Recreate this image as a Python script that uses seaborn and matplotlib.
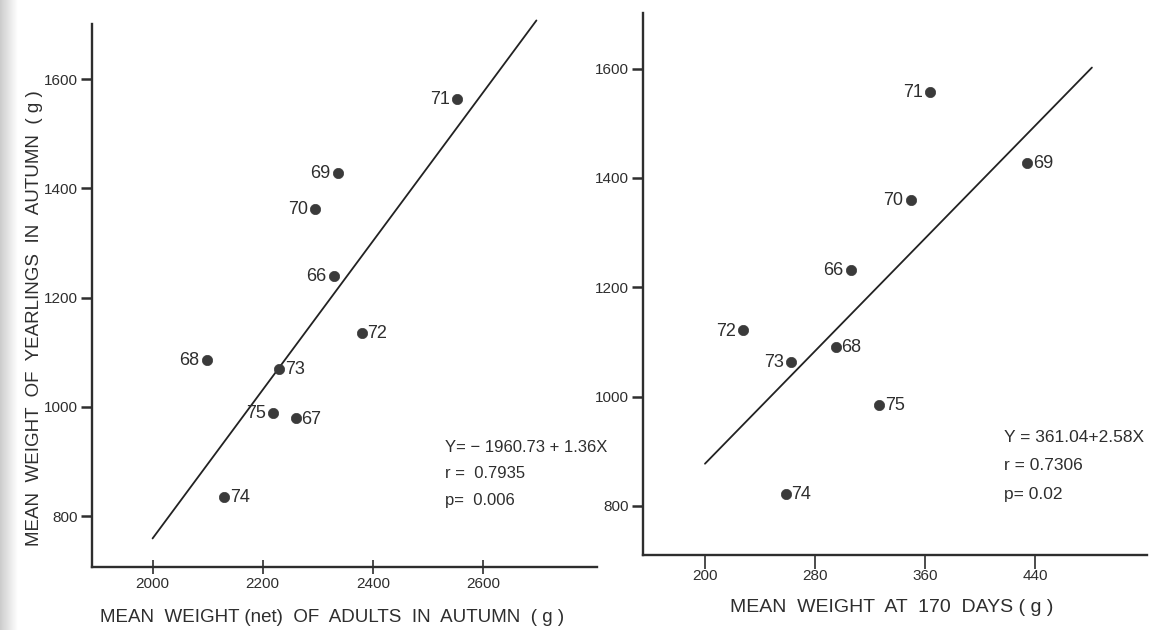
import matplotlib
matplotlib.use("Agg")
import matplotlib.pyplot as plt
import seaborn as sns
import numpy as np
import pandas as pd

# ---- data ----
years = ["71", "69", "70", "66", "72", "68", "73", "75", "67", "74"]
adult_wt = [2552, 2336, 2295, 2329, 2380, 2098, 2230, 2218, 2260, 2130]
yearling_wt_a = [1563, 1428, 1363, 1240, 1135, 1086, 1070, 989, 979, 836]
label_side_a = ["l", "l", "l", "l", "r", "l", "r", "l", "r", "r"]

years_b = ["71", "69", "70", "66", "72", "68", "73", "75", "74"]
wt170 = [363.6, 434, 349.3, 305.7, 227.3, 295, 262.2, 326.5, 258.6]
yearling_wt_b = [1557, 1427, 1360, 1231, 1121, 1091, 1064, 984, 822]
label_side_b = ["l", "r", "l", "l", "l", "r", "l", "r", "r"]

fit_a = (-1960.73, 1.36)
fit_a_range = [2000, 2697]
fit_b = (361.04, 2.58)
fit_b_range = [200, 481]

y_ticks = [800, 1000, 1200, 1400, 1600]
x_ticks_a = [2000, 2200, 2400, 2600]
x_ticks_b = [200, 280, 360, 440]

stats_a = ["Y= \u2212 1960.73 + 1.36X", "r =  0.7935", "p=  0.006"]
stats_b = ["Y = 361.04+2.58X", "r = 0.7306", "p= 0.02"]

xlabel_a = "MEAN  WEIGHT (net)  OF  ADULTS  IN  AUTUMN  ( g )"
xlabel_b = "MEAN  WEIGHT  AT  170  DAYS ( g )"
ylabel_a = "MEAN  WEIGHT  OF  YEARLINGS  IN  AUTUMN  ( g )"

# ---- style ----
sns.set_theme(style="white")
plt.rcParams['font.family'] = ['Liberation Sans', 'DejaVu Sans']
ink = "#2e2e2e"

W, H = 1171, 630
fig = plt.figure(figsize=(W / 100, H / 100), dpi=100)
fig.patch.set_facecolor("white")

# faint grey scan edge on the left
edge = fig.add_axes([0, 0, 18 / W, 1])
grad = np.linspace(0.80, 1.0, 50)[None, :]
edge.imshow(grad, aspect="auto", cmap="gray", vmin=0, vmax=1, extent=[0, 1, 0, 1])
edge.set_axis_off()


def px_axes(x0, x1, ybot, ytop):
    return fig.add_axes([x0 / W, 1 - ybot / H, (x1 - x0) / W, (ybot - ytop) / H])


def setup(ax, xlim, ylim, xticks, ybound_top, xbound_right, xtick_dir, xpad):
    ax.set_xlim(*xlim)
    ax.set_ylim(*ylim)
    ax.set_facecolor("none")
    for s in ["top", "right"]:
        ax.spines[s].set_visible(False)
    for s in ["left", "bottom"]:
        ax.spines[s].set_color(ink)
        ax.spines[s].set_linewidth(1.7)
    ax.spines["left"].set_bounds(ylim[0], ybound_top)
    ax.spines["bottom"].set_bounds(xlim[0], xbound_right)
    ax.set_yticks(y_ticks)
    ax.set_xticks(xticks)
    ax.tick_params(axis="y", direction="out", length=8, width=1.8, color=ink,
                   labelsize=11, labelcolor=ink, pad=2, left=True)
    ax.tick_params(axis="x", direction=xtick_dir, length=10, width=1.2, color=ink,
                   labelsize=11, labelcolor=ink, pad=xpad, bottom=True)


def draw_points(ax, xs, ys, labels, sides):
    df = pd.DataFrame({"x": xs, "y": ys})
    sns.scatterplot(data=df, x="x", y="y", ax=ax, s=55, color="#3a3a3a",
                    edgecolor="#3a3a3a", linewidth=0.5, zorder=3, legend=False)
    for x, y, lab, side in zip(xs, ys, labels, sides):
        if side == "l":
            ax.annotate(lab, (x, y), xytext=(-5, -0.5), textcoords="offset points",
                        ha="right", va="center", fontsize=13, color=ink)
        else:
            ax.annotate(lab, (x, y), xytext=(4, -0.5), textcoords="offset points",
                        ha="left", va="center", fontsize=13, color=ink)


# Left panel
axA = px_axes(92, 597, 567, 8)
setup(axA, (1890, 2807), (707, 707 + 559 * 1.83), x_ticks_a, 1701, 2807, "inout", 2)
xa = np.array(fit_a_range, dtype=float)
sns.lineplot(x=xa, y=fit_a[0] + fit_a[1] * xa, ax=axA, color="#222222", lw=1.3)
draw_points(axA, adult_wt, yearling_wt_a, years, label_side_a)
axA.set_xlabel("")
axA.set_ylabel("")

# Right panel
axB = px_axes(643, 1147, 555, 8)
setup(axB, (155, 521), (710, 710 + 547 * 1.83), x_ticks_b, 1702, 521, "out", 0)
xb = np.array(fit_b_range, dtype=float)
sns.lineplot(x=xb, y=fit_b[0] + fit_b[1] * xb, ax=axB, color="#222222", lw=1.3)
draw_points(axB, wt170, yearling_wt_b, years_b, label_side_b)
axB.set_xlabel("")
axB.set_ylabel("")

# Axis labels
fig.text(100 / W, 1 - 617 / H, xlabel_a, ha="left", va="center", fontsize=13.5, color=ink)
fig.text(730 / W, 1 - 607 / H, xlabel_b, ha="left", va="center", fontsize=14, color=ink)
fig.text(35 / W, 1 - 318 / H, ylabel_a, ha="center", va="center", rotation=90,
         fontsize=13.5, color=ink)

# Stats text
for i, t in enumerate(stats_a):
    fig.text(445 / W, 1 - (447 + 27 * i) / H, t, ha="left", va="center", fontsize=12, color=ink)
for i, t in enumerate(stats_b):
    fig.text(1004 / W, 1 - (438 + 28 * i) / H, t, ha="left", va="center", fontsize=12.5, color=ink)

fig.savefig("out.png", dpi=100, facecolor="white")
